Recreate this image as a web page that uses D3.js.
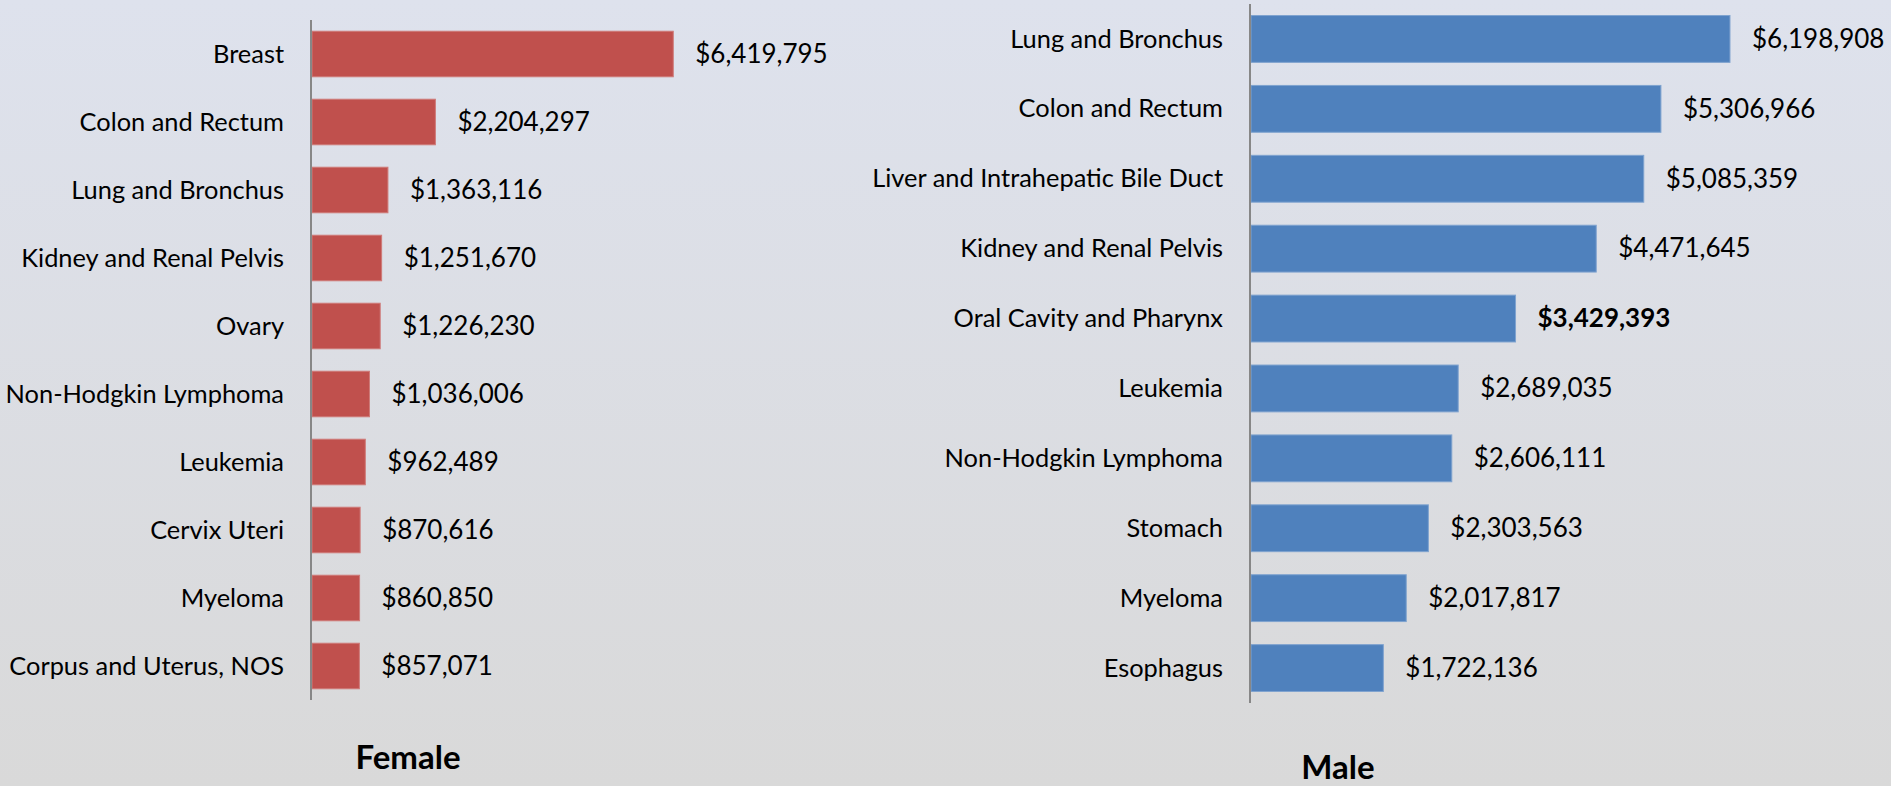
<!DOCTYPE html>
<html>
<head>
<meta charset="utf-8">
<script src="https://cdn.jsdelivr.net/npm/d3@7"></script>
<style>
  html, body { margin: 0; padding: 0; }
  body { width: 1891px; height: 786px; overflow: hidden; }
  svg { display: block; }
  text { font-family: Lato, "Open Sans", sans-serif; fill: #000; }
</style>
</head>
<body>
<svg id="chart" width="1891" height="786"></svg>
<script>
const femaleCategories = ["Breast", "Colon and Rectum", "Lung and Bronchus", "Kidney and Renal Pelvis", "Ovary",
  "Non-Hodgkin Lymphoma", "Leukemia", "Cervix Uteri", "Myeloma", "Corpus and Uterus, NOS"];
const femaleValues = [6419795, 2204297, 1363116, 1251670, 1226230, 1036006, 962489, 870616, 860850, 857071];

const maleCategories = ["Lung and Bronchus", "Colon and Rectum", "Liver and Intrahepatic Bile Duct", "Kidney and Renal Pelvis",
  "Oral Cavity and Pharynx", "Leukemia", "Non-Hodgkin Lymphoma", "Stomach", "Myeloma", "Esophagus"];
const maleValues = [6198908, 5306966, 5085359, 4471645, 3429393, 2689035, 2606111, 2303563, 2017817, 1722136];
const maleBoldIndex = 4;

const axisMax = 7000000;

const svg = d3.select("#chart");
const W = 1891, H = 786;

// background gradient
const defs = svg.append("defs");
const grad = defs.append("linearGradient").attr("id", "bg").attr("x1", 0).attr("y1", 0).attr("x2", 0).attr("y2", 1);
grad.append("stop").attr("offset", "0%").attr("stop-color", "#dee2ed");
grad.append("stop").attr("offset", "100%").attr("stop-color", "#d9d9d9");
svg.append("rect").attr("width", W).attr("height", H).attr("fill", "url(#bg)");

const fmt = v => "$" + d3.format(",")(v);

function panel(cfg) {
  const g = svg.append("g");
  const y = d3.scaleBand().domain(cfg.categories).range([cfg.top, cfg.bottom])
    .paddingInner(0.33).paddingOuter(0.165);
  const x = d3.scaleLinear().domain([0, axisMax]).range([cfg.x0, cfg.x1]);
  const data = cfg.categories.map((c, i) => ({ c, v: cfg.values[i], i }));

  g.selectAll("rect.bar").data(data).enter().append("rect")
    .attr("class", "bar")
    .attr("x", x(0) + 1)
    .attr("y", d => y(d.c))
    .attr("width", d => x(d.v) - x(0) - 1)
    .attr("height", y.bandwidth())
    .attr("fill", cfg.color)
    .attr("stroke", cfg.edge)
    .attr("stroke-width", 1);

  const axis = d3.axisLeft(y).tickSize(0).tickPadding(27);
  const ag = g.append("g").attr("transform", `translate(${x(0)},0)`).call(axis);
  ag.select(".domain").attr("stroke", "#878787").attr("stroke-width", 2)
    .attr("d", `M0,${cfg.top}V${cfg.bottom}`);
  ag.selectAll(".tick text")
    .attr("font-size", 25.4).attr("font-family", "Lato, 'Open Sans', sans-serif")
    .attr("fill", "#000").attr("dy", "0.34em");

  g.selectAll("text.val").data(data).enter().append("text")
    .attr("class", "val")
    .attr("x", d => x(d.v) + 22)
    .attr("y", d => y(d.c) + y.bandwidth() / 2)
    .attr("dy", "0.34em")
    .attr("font-size", 26)
    .attr("font-weight", d => d.i === cfg.boldIndex ? "bold" : "normal")
    .text(d => fmt(d.v));

  g.append("text")
    .attr("x", cfg.titleX).attr("y", cfg.titleY)
    .attr("text-anchor", "middle")
    .attr("font-size", 33).attr("font-weight", "bold")
    .text(cfg.title);
}

panel({ categories: femaleCategories, values: femaleValues, color: "#c0504d", edge: "#cf7a78",
  top: 20, bottom: 700, x0: 311, x1: 706, title: "Female", titleX: 408, titleY: 769, boldIndex: -1 });
panel({ categories: maleCategories, values: maleValues, color: "#4f81bd", edge: "#7fa3cf",
  top: 4, bottom: 703, x0: 1250, x1: 1792, title: "Male", titleX: 1338, titleY: 779, boldIndex: maleBoldIndex });
</script>
</body>
</html>
